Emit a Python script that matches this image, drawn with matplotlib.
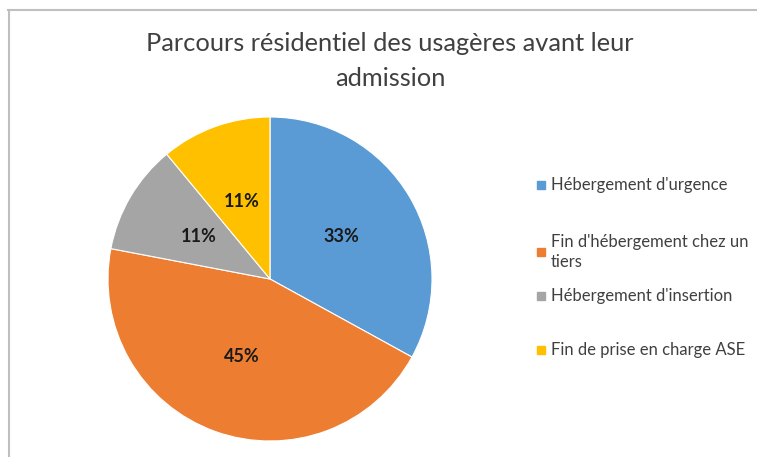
import matplotlib
matplotlib.use("Agg")
import matplotlib.pyplot as plt
from matplotlib.lines import Line2D

categories = ["Hébergement d'urgence", "Fin d'hébergement chez un\ntiers",
              "Hébergement d'insertion", "Fin de prise en charge ASE"]
values = [33, 45, 11, 11]
colors = ["#5B9BD5", "#ED7D31", "#A5A5A5", "#FFC000"]
title = "Parcours résidentiel des usagères avant leur\nadmission"

plt.rcParams['font.family'] = ['Lato', 'DejaVu Sans']

W, H = 757, 457
fig = plt.figure(figsize=(W / 100, H / 100), dpi=100)
fig.patch.set_facecolor('white')

# frame lines (top and left) of the chart area
fig.add_artist(Line2D([8 / W, 1], [1 - 10 / H, 1 - 10 / H], color='#BFBFBF', lw=1.5))
fig.add_artist(Line2D([9 / W, 9 / W], [0, 1 - 10 / H], color='#BFBFBF', lw=1.5))

cx, cy, r = 270, 279, 162
ax = fig.add_axes([(cx - r) / W, (H - cy - r) / H, 2 * r / W, 2 * r / H])
wedges, texts, autotexts = ax.pie(values, colors=colors, startangle=90, counterclock=False,
                                  autopct='%1.0f%%', pctdistance=0.51,
                                  wedgeprops=dict(linewidth=0.8, edgecolor='white'),
                                  textprops=dict(fontsize=13, fontweight='bold', color='#1a1a1a'))
ax.set_xlim(-1, 1)
ax.set_ylim(-1, 1)
ax.set_aspect('equal')

fig.text(390 / W, 1 - 61 / H, title, ha='center', va='center', fontsize=18.3,
         color='#404040', linespacing=1.58)

# legend entries (layout positions in pixels)
legend_y = [185, 252, 296, 350]
for c, lab, y in zip(colors, categories, legend_y):
    fig.add_artist(Line2D([541 / W], [1 - y / H], marker='s', markersize=6,
                          markerfacecolor=c, markeredgecolor=c, linestyle='none'))
    fig.text(551 / W, 1 - y / H, lab, ha='left', va='center', fontsize=12,
             color='#404040', linespacing=1.3)

fig.savefig("out.png", dpi=100, facecolor='white')
